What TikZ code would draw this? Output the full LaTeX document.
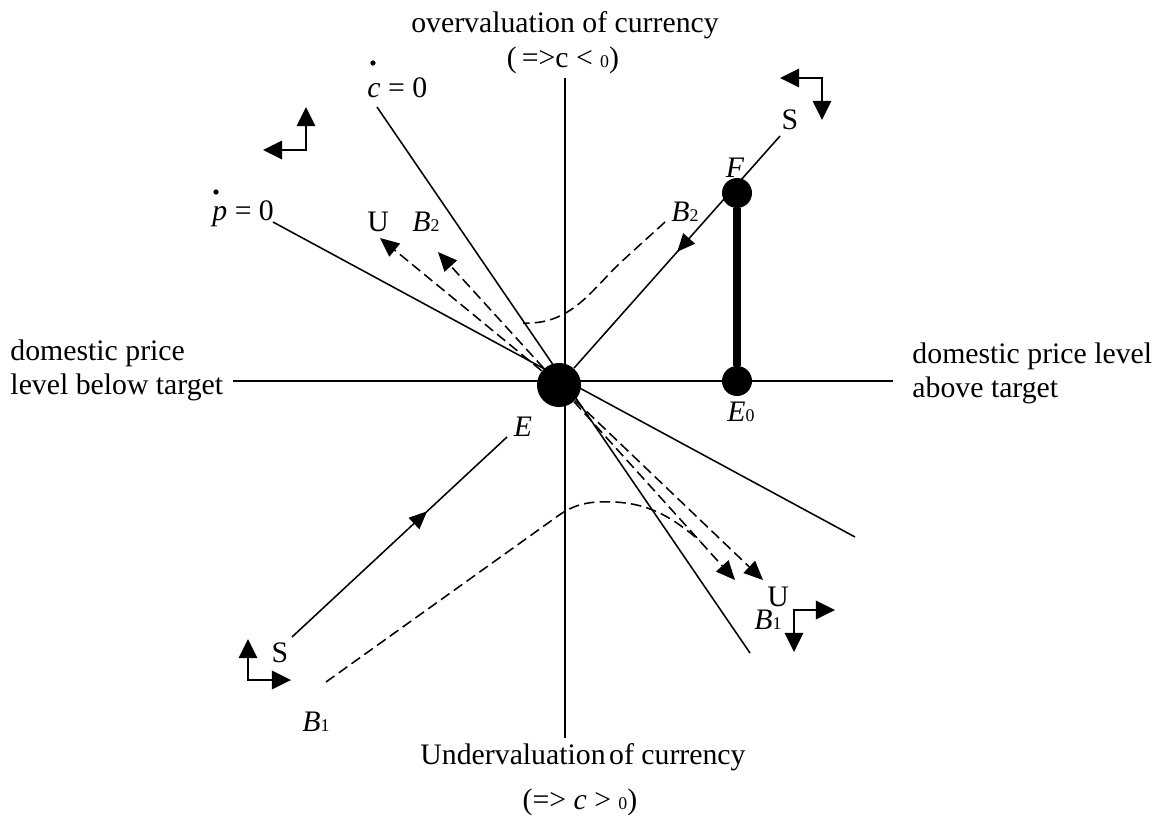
\documentclass[tikz,border=0pt]{standalone}
\usepackage{fontspec}
\setmainfont{Liberation Serif}
\usetikzlibrary{arrows.meta, decorations.markings}

\newcommand{\smallidx}[1]{{\fontsize{7.5}{8}\selectfont #1}}

\begin{document}
\begin{tikzpicture}[x=0.42pt, y=-0.42pt, every node/.style={font=\fontsize{12.5}{14.3}\selectfont}]
  \tikzset{
    axis/.style={black, line width=0.65pt},
    locus/.style={black, line width=0.65pt},
    dashpath/.style={black, line width=0.65pt, dash pattern=on 4.4pt off 2.2pt},
    tip/.style={-{Triangle[length=8pt, width=7pt]}},
    corner/.style={black, line width=0.65pt, {Triangle[length=8pt, width=7.8pt]}-{Triangle[length=8pt, width=7.8pt]}},
    midarrow/.style={postaction={decorate}, decoration={markings,
        mark=at position #1 with {\arrow{Triangle[length=7.5pt, width=6.5pt]}}}},
    bigdot/.style={circle, fill=black, inner sep=0pt, minimum size=18.5pt},
    meddot/.style={circle, fill=black, inner sep=0pt, minimum size=12.6pt},
    timedot/.style={circle, fill=black, inner sep=0pt, minimum size=2.2pt},
    lbl/.style={inner sep=0pt},
  }
  \useasboundingbox (0,0) rectangle (1158,823);

  %% ===== Axes =====
  \coordinate (axL) at (233,381);  \coordinate (axR) at (893,381);
  \coordinate (axT) at (565,78);   \coordinate (axB) at (565,738);
  \draw[axis] (axL) -- (axR);
  \draw[axis] (axT) -- (axB);

  %% ===== Stationary loci =====
  \coordinate (cTop) at (377,107);  \coordinate (cBot) at (750,653);
  \coordinate (pTop) at (273,222);  \coordinate (pBot) at (855,537);
  \draw[locus] (cTop) -- (cBot);
  \draw[locus] (pTop) -- (pBot);

  %% ===== Equilibria =====
  \node[bigdot] (E) at (559,385) {};
  \node[meddot] (F) at (737,193) {};
  \node[meddot] (E0) at (737,381) {};
  \draw[line width=3.4pt] (F) -- (E0);

  %% ===== Saddle path =====
  \coordinate (sTop) at (780,136);
  \coordinate (sLow) at (292,637);  \coordinate (sLowEnd) at (507,437);
  \draw[locus, midarrow=0.5] (sTop) -- (E);
  \draw[locus, midarrow=0.63] (sLow) -- (sLowEnd);

  %% ===== Unstable paths (dashed) =====
  \coordinate (uUL) at (380,238);  \coordinate (bUL) at (438,252);
  \coordinate (uLR) at (763,580);  \coordinate (bLR) at (735,580);
  \draw[dashpath, tip] (E) -- (uUL);
  \draw[dashpath, tip] (E) -- (bUL);
  \draw[dashpath, tip] (E) -- (uLR);
  \draw[dashpath, tip] (E) -- (bLR);
  % B2 path bending at the c-locus
  \coordinate (b2Start) at (665,222);  \coordinate (b2End) at (523,323);
  \draw[dashpath] (b2Start) -- (620,263) .. controls (590,292) and (570,325) .. (b2End);
  % B1 path joining the lower unstable arm
  \coordinate (b1Start) at (326,682);  \coordinate (b1End) at (700,541);
  \draw[dashpath] (b1Start) -- (555,518) .. controls (575,503) and (590,501) .. (615,502)
    .. controls (650,504) and (672,517) .. (b1End);

  %% ===== Direction arrows in the quadrants =====
  \coordinate (qUL) at (306,150);  \coordinate (qUR) at (822,78);
  \coordinate (qLL) at (248,680);  \coordinate (qLR) at (794,610);
  \draw[corner] (306,107) -- (qUL) -- (263,150);
  \draw[corner] (780,78) -- (qUR) -- (822,120);
  \draw[corner] (248,639) -- (qLL) -- (291,680);
  \draw[corner] (794,652) -- (qLR) -- (835,610);

  %% ===== Labels =====
  \node[lbl, anchor=base] (topTxt) at (565,32) {overvaluation of currency};
  \node[lbl, anchor=base] (topSign) at (563,67) {(\,=>c < \smallidx{0})};
  \node[lbl, anchor=center] (botTxt) at (583,757) {Undervaluation\hspace{1.5pt}of currency};
  \node[lbl, anchor=center] (botSign) at (580,802) {(=> \textit{c} > \smallidx{0})};
  \node[lbl, anchor=west, align=left] (leftTxt) at (10,370) {domestic price\\level below target};
  \node[lbl, anchor=west, align=left] (rightTxt) at (912,373) {domestic price level\\above target};

  \node[timedot] (cDot) at (373,63) {};
  \node[lbl, anchor=base west] (cLbl) at (367,97) {\textit{c} = 0};
  \node[timedot] (pDot) at (216,192) {};
  \node[lbl, anchor=base west] (pLbl) at (212,220) {\textit{p} = 0};

  \node[lbl] (sUpLbl) at (790,120) {S};
  \node[lbl] (sLowLbl) at (280,653) {S};
  \node[lbl] (uUpLbl) at (378,222) {U};
  \node[lbl] (uLowLbl) at (778,597) {U};
  \node[lbl] (b2LeftLbl) at (426,222) {\textit{B}\smallidx{2}};
  \node[lbl] (b2RightLbl) at (685,212) {\textit{B}\smallidx{2}};
  \node[lbl] (b1RightLbl) at (768,620) {\textit{B}\smallidx{1}};
  \node[lbl] (b1LowLbl) at (316,722) {\textit{B}\smallidx{1}};
  \node[lbl] (fLbl) at (735,168) {\textit{F}};
  \node[lbl] (eLbl) at (523,427) {\textit{E}};
  \node[lbl] (e0Lbl) at (741,412) {\textit{E}\smallidx{0}};
\end{tikzpicture}
\end{document}
